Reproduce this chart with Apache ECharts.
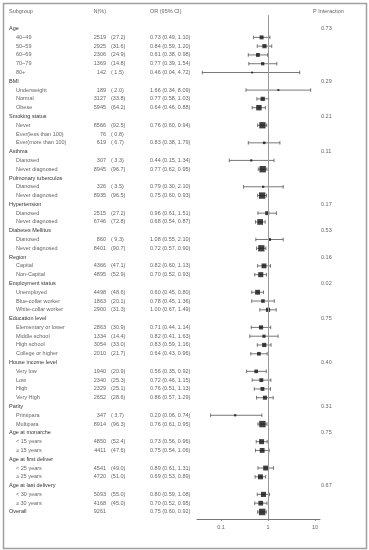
<!DOCTYPE html>
<html><head><meta charset="utf-8">
<script src="https://cdn.jsdelivr.net/npm/echarts@6/dist/echarts.min.js"></script>
<style>html,body{margin:0;padding:0;background:#fff}#c{width:369px;height:550px}</style>
</head><body><div id="c"></div>
<script>
const subgroups = ['Age','40~49','50~59','60~69','70~79','80+',
  'BMI','Underweight','Normal','Obese',
  'Smoking status','Never','Ever(less than 100)','Ever(more than 100)',
  'Asthma','Dianosed','Never diagnosed',
  'Pulmonary tuberculos','Dianosed','Never diagnosed',
  'Hypertension','Dianosed','Never diagnosed',
  'Diabetes Mellitus','Dianosed','Never diagnosed',
  'Region','Capital','Non-Capital',
  'Employment status','Unemployed','Blue-collar worker','White-collar worker',
  'Education level','Elementary or lower','Middle school','High school','College or higher',
  'House income level','Very low','Low','High','Very High',
  'Parity','Primipara','Multipara',
  'Age at monarche','< 15 years','\u2265 15 years',
  'Age at first deliver','< 25 years','\u2265 25 years',
  'Age at last delivery','< 30 years','\u2265 30 years',
  'Overall'];
const nCounts = [null,2519,2925,2306,1369,142, null,189,3127,5945, null,8566,76,619, null,307,8945, null,326,8935, null,2515,6746, null,860,8401, null,4366,4895, null,4498,1863,2900, null,2863,1334,3054,2010, null,1940,2340,2329,2652, null,347,8914, null,4850,4411, null,4541,4720, null,5093,4168, 9261];
const nPercent = [null,27.2,31.6,24.9,14.8,1.5, null,2.0,33.8,64.2, null,92.5,0.8,6.7, null,3.3,96.7, null,3.5,96.5, null,27.2,72.8, null,9.3,90.7, null,47.1,52.9, null,48.6,20.1,31.3, null,30.9,14.4,33.0,21.7, null,20.9,25.3,25.1,28.6, null,3.7,96.3, null,52.4,47.6, null,49.0,51.0, null,55.0,45.0, null];
const orEst = [null,0.73,0.84,0.61,0.77,0.46, null,1.66,0.77,0.64, null,0.76,null,0.83, null,0.44,0.77, null,0.79,0.75, null,0.96,0.68, null,1.08,0.72, null,0.82,0.70, null,0.60,0.78,1.00, null,0.71,0.82,0.83,0.64, null,0.56,0.72,0.76,0.86, null,0.20,0.76, null,0.73,0.75, null,0.89,0.69, null,0.80,0.70, 0.75];
const ciLow = [null,0.49,0.59,0.38,0.39,0.04, null,0.34,0.58,0.46, null,0.60,null,0.38, null,0.15,0.62, null,0.30,0.60, null,0.61,0.54, null,0.55,0.57, null,0.60,0.52, null,0.45,0.45,0.67, null,0.44,0.41,0.59,0.43, null,0.35,0.46,0.51,0.57, null,0.06,0.61, null,0.56,0.54, null,0.61,0.53, null,0.59,0.52, 0.60];
const ciHigh = [null,1.10,1.20,0.98,1.54,4.72, null,8.09,1.03,0.88, null,0.94,null,1.79, null,1.34,0.95, null,2.10,0.93, null,1.51,0.87, null,2.10,0.90, null,1.13,0.93, null,0.80,1.36,1.49, null,1.14,1.63,1.16,0.96, null,0.92,1.15,1.13,1.29, null,0.74,0.95, null,0.96,1.06, null,1.31,0.89, null,1.08,0.95, 0.92];
const pInteraction = [0.73,null,null,null,null,null, 0.29,null,null,null, 0.21,null,null,null, 0.11,null,null, null,null,null, 0.17,null,null, 0.53,null,null, 0.16,null,null, 0.02,null,null,null, 0.75,null,null,null,null, 0.40,null,null,null,null, 0.31,null,null, 0.75,null,null, null,null,null, 0.67,null,null, null];
const columnHeaders = ['Subgroup','N(%)','OR (95% CI)','P Interaction'];
const xTickLabels = ['0.1','1','10'];

const FONT = '"Liberation Sans", Arial, Helvetica, sans-serif';
const FS = 5.5;
const TXT = '#666';
const HDR = '#333';
const lastRow = subgroups.length - 1;
const isHeader = subgroups.map((s, i) => nCounts[i] == null || i === lastRow);

function fmtOR(i) {
  if (orEst[i] == null) return '';
  return orEst[i].toFixed(2) + ' (' + ciLow[i].toFixed(2) + ', ' + ciHigh[i].toFixed(2) + ')';
}
function fmtPct(i) {
  if (nPercent[i] == null) return '';
  let s = nPercent[i].toFixed(1);
  if (s.length < 4) s = ' ' + s;
  return '(' + s + ')';
}

function rowFormatter(fn, header) {
  return function (v) {
    const i = Math.round(v);
    if (Math.abs(v - i) > 1e-6) return '';
    if (i === -2) return header ? header : '';
    if (i < 0 || i > lastRow) return '';
    const t = fn(i);
    return t == null ? '' : String(t);
  };
}

function yAx(position, offset, margin, align, fn, header, color) {
  return {
    type: 'value', inverse: true, min: -2, max: 55.8, interval: 1,
    position: position, offset: offset, gridIndex: 0,
    axisLine: { show: false, onZero: false }, axisTick: { show: false }, splitLine: { show: false },
    axisLabel: {
      show: true, margin: margin, align: align, showMinLabel: true, showMaxLabel: true,
      fontFamily: FONT, fontSize: FS, color: color || TXT,
      formatter: rowFormatter(fn, header)
    }
  };
}

const yAxes = [
  yAx('left', 188, 0, 'left', i => isHeader[i] ? subgroups[i] : '', null, HDR),
  yAx('left', 181, 0, 'left', i => isHeader[i] ? '' : subgroups[i], null, TXT),
  yAx('left', 0, 0, 'left', i => '', columnHeaders[0], TXT),
  yAx('left', 91, 0, 'right', i => nCounts[i], columnHeaders[1], TXT),
  yAx('left', 86, 0, 'left', i => fmtPct(i), null, TXT),
  yAx('left', 47, 0, 'left', i => fmtOR(i), columnHeaders[2], TXT),
  yAx('right', 0, 1, 'left', i => pInteraction[i] == null ? '' : pInteraction[i].toFixed(2), null, TXT),
  yAx('left', -116, 0, 'left', i => '', columnHeaders[3], TXT)
];
// column header for Subgroup sits at the same x as group headers
yAxes[2].offset = 188;

const pointData = [];
const ciData = [];
subgroups.forEach((s, i) => {
  if (orEst[i] != null) {
    pointData.push([orEst[i], i, nCounts[i]]);
    ciData.push([ciLow[i], ciHigh[i], i]);
  }
});

const chart = echarts.init(document.getElementById('c'), null, { renderer: 'canvas' });
chart.setOption({
  animation: false,
  backgroundColor: '#fff',
  textStyle: { fontFamily: FONT },
  graphic: [{
    type: 'rect', left: 1, top: 1, z: -1,
    shape: { x: 0, y: 0, width: 363, height: 545 },
    style: { fill: null, stroke: '#a0a0a0', lineWidth: 1.5 }
  }],
  grid: { left: 197, top: 11, width: 123, height: 508, containLabel: false, outerBoundsMode: 'none' },
  xAxis: {
    type: 'log', logBase: 10, min: 0.0308, max: 12.77,
    axisLine: { show: true, onZero: false, lineStyle: { color: '#777', width: 1 } },
    axisTick: { show: true, length: 2, lineStyle: { color: '#777', width: 0.8 } },
    splitLine: { show: false },
    minorTick: { show: false },
    axisLabel: {
      show: true, margin: 5, fontFamily: FONT, fontSize: FS, color: TXT,
      showMinLabel: false, showMaxLabel: false,
      formatter: function (v) {
        const s = String(+Number(v).toPrecision(3));
        return xTickLabels.indexOf(s) >= 0 ? s : '';
      }
    }
  },
  yAxis: yAxes,
  series: [
    {
      type: 'custom',
      xAxisIndex: 0, yAxisIndex: 0,
      encode: { x: [0, 1], y: 2 },
      data: ciData,
      clip: false,
      renderItem: function (params, api) {
        const y = api.value(2);
        const p1 = api.coord([api.value(0), y]);
        const p2 = api.coord([api.value(1), y]);
        const h = 1.8;
        const st = { stroke: '#555', lineWidth: 0.8 };
        return {
          type: 'group',
          children: [
            { type: 'line', shape: { x1: p1[0], y1: p1[1], x2: p2[0], y2: p2[1] }, style: st },
            { type: 'line', shape: { x1: p1[0], y1: p1[1] - h, x2: p1[0], y2: p1[1] + h }, style: st },
            { type: 'line', shape: { x1: p2[0], y1: p2[1] - h, x2: p2[0], y2: p2[1] + h }, style: st }
          ]
        };
      },
      markLine: {
        silent: true, symbol: ['none', 'none'], label: { show: false },
        lineStyle: { color: '#999', width: 1, type: 'solid' },
        data: [[{ coord: [1, -1.55] }, { coord: [1, 55.8] }]]
      },
      z: 2
    },
    {
      type: 'scatter',
      xAxisIndex: 0, yAxisIndex: 0,
      data: pointData,
      symbol: 'rect',
      symbolSize: function (val) { return 1.2 + 0.055 * Math.sqrt(val[2]); },
      itemStyle: { color: '#111' },
      clip: false,
      z: 3
    }
  ]
});
</script></body></html>
